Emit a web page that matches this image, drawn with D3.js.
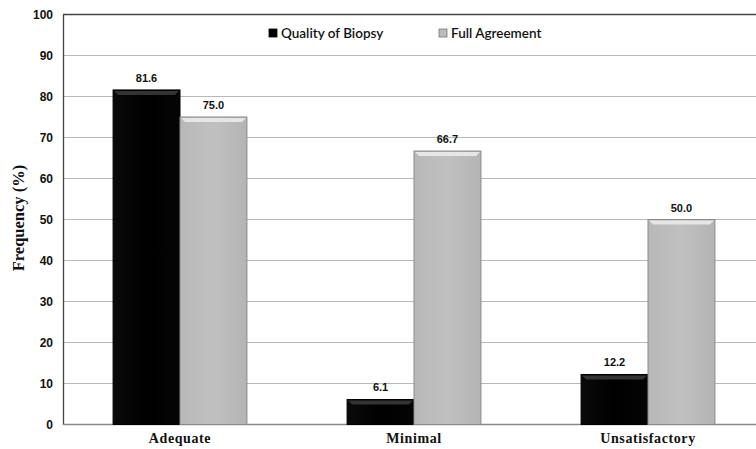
<!DOCTYPE html>
<html><head><meta charset="utf-8">
<script src="https://cdn.jsdelivr.net/npm/d3@7"></script>
<style>body{margin:0;background:#fff}</style>
</head><body><svg id="c" width="756" height="449"></svg>
<script>
const categories = ["Adequate", "Minimal", "Unsatisfactory"];
const seriesNames = ["Quality of Biopsy", "Full Agreement"];
const quality = [81.6, 6.1, 12.2];
const agreement = [75.0, 66.7, 50.0];
const yTicks = [0, 10, 20, 30, 40, 50, 60, 70, 80, 90, 100];

const svg = d3.select("#c");
const m = {l: 63, r: -9, t: 14.5, b: 24.5};
const W = 756, H = 449;
const x = d3.scaleBand().domain(categories).range([m.l, W - m.r]).padding(0);
const y = d3.scaleLinear().domain([0, 100]).range([H - m.b, m.t]);
const bw = x.step() * 0.286;

const defs = svg.append("defs");
const gK = defs.append("linearGradient").attr("id", "gk").attr("x1", 0).attr("x2", 1);
gK.append("stop").attr("offset", 0).attr("stop-color", "#0a0a0a");
gK.append("stop").attr("offset", 0.5).attr("stop-color", "#000");
gK.append("stop").attr("offset", 1).attr("stop-color", "#050505");
const gG = defs.append("linearGradient").attr("id", "gg").attr("x1", 0).attr("x2", 1);
gG.append("stop").attr("offset", 0).attr("stop-color", "#b8b8b8");
gG.append("stop").attr("offset", 0.5).attr("stop-color", "#c0c0c0");
gG.append("stop").attr("offset", 1).attr("stop-color", "#b4b4b4");

// grid
svg.append("g").selectAll("line").data(yTicks.filter(d => d > 0 && d < 100)).join("line")
  .attr("x1", m.l).attr("x2", W).attr("y1", d => y(d)).attr("y2", d => y(d))
  .attr("stroke", "#b8b8b8").attr("stroke-width", 1.2);
// top border
svg.append("line").attr("x1", m.l).attr("x2", W).attr("y1", y(100)).attr("y2", y(100))
  .attr("stroke", "#444").attr("stroke-width", 1.3);

// y axis
const yAxis = svg.append("g").attr("transform", `translate(${m.l},0)`)
  .call(d3.axisLeft(y).tickValues(yTicks).tickSize(0).tickPadding(10));
yAxis.select(".domain").attr("stroke", "#444").attr("stroke-width", 1.3);
yAxis.selectAll("text").attr("font-family", "Liberation Sans, Arial, sans-serif")
  .attr("font-weight", "bold").attr("font-size", 12).attr("fill", "#111");

// bottom axis
svg.append("line").attr("x1", m.l).attr("x2", W).attr("y1", y(0)).attr("y2", y(0))
  .attr("stroke", "#888").attr("stroke-width", 1.5);
const xAxis = svg.append("g").attr("transform", `translate(0,${y(0)})`)
  .call(d3.axisBottom(x).tickSize(0).tickPadding(9));
xAxis.select(".domain").remove();
xAxis.selectAll("text").attr("font-family", "Liberation Serif, Times New Roman, serif")
  .attr("font-weight", "bold").attr("font-size", 14).attr("fill", "#111").attr("letter-spacing", 0.6);

// y title
svg.append("text").attr("transform", `translate(24,218) rotate(-90)`)
  .attr("text-anchor", "middle").attr("font-family", "Liberation Serif, Times New Roman, serif")
  .attr("font-weight", "bold").attr("font-size", 16.5).attr("fill", "#111").text("Frequency (%)");

const data = [quality, agreement];
const fills = ["url(#gk)", "url(#gg)"];
const strokes = ["#000", "#8a8a8a"];
const tops = ["#333", "#e6e6e6"];
data.forEach((vals, s) => {
  const g = svg.append("g");
  const bx = c => x(c) + x.step() / 2 + (s === 0 ? -bw : 0);
  g.selectAll("rect").data(categories).join("rect")
    .attr("x", c => bx(c)).attr("width", bw)
    .attr("y", (c, i) => y(vals[i])).attr("height", (c, i) => y(0) - y(vals[i]))
    .attr("fill", fills[s]).attr("stroke", strokes[s]).attr("stroke-width", 1);
  g.selectAll("path.top").data(categories).join("path").attr("class", "top")
    .attr("d", (c, i) => { const X = bx(c), Y = y(vals[i]); return `M${X + 1},${Y + 1}L${X + bw - 1},${Y + 1}L${X + bw - 5},${Y + 5}L${X + 5},${Y + 5}Z`; })
    .attr("fill", tops[s]);
  g.selectAll("text").data(categories).join("text")
    .attr("x", c => bx(c) + bw / 2).attr("y", (c, i) => y(vals[i]) - 8)
    .attr("text-anchor", "middle").attr("font-family", "Liberation Sans, Arial, sans-serif")
    .attr("font-weight", "bold").attr("font-size", 11).attr("fill", "#111")
    .text((c, i) => vals[i].toFixed(1));
});

// legend
const leg = [{x: 269, name: seriesNames[0], fill: "#000", stroke: "#000"}, {x: 439, name: seriesNames[1], fill: "#bbb", stroke: "#777"}];
leg.forEach(d => {
  svg.append("rect").attr("x", d.x).attr("y", 29).attr("width", 8).attr("height", 8)
    .attr("fill", d.fill).attr("stroke", d.stroke).attr("stroke-width", 0.8);
  svg.append("text").attr("x", d.x + 12).attr("y", 37.5).attr("font-family", "Lato, Open Sans, sans-serif")
    .attr("font-size", 13.5).attr("font-weight", 600).attr("fill", "#111").text(d.name);
});
</script></body></html>
